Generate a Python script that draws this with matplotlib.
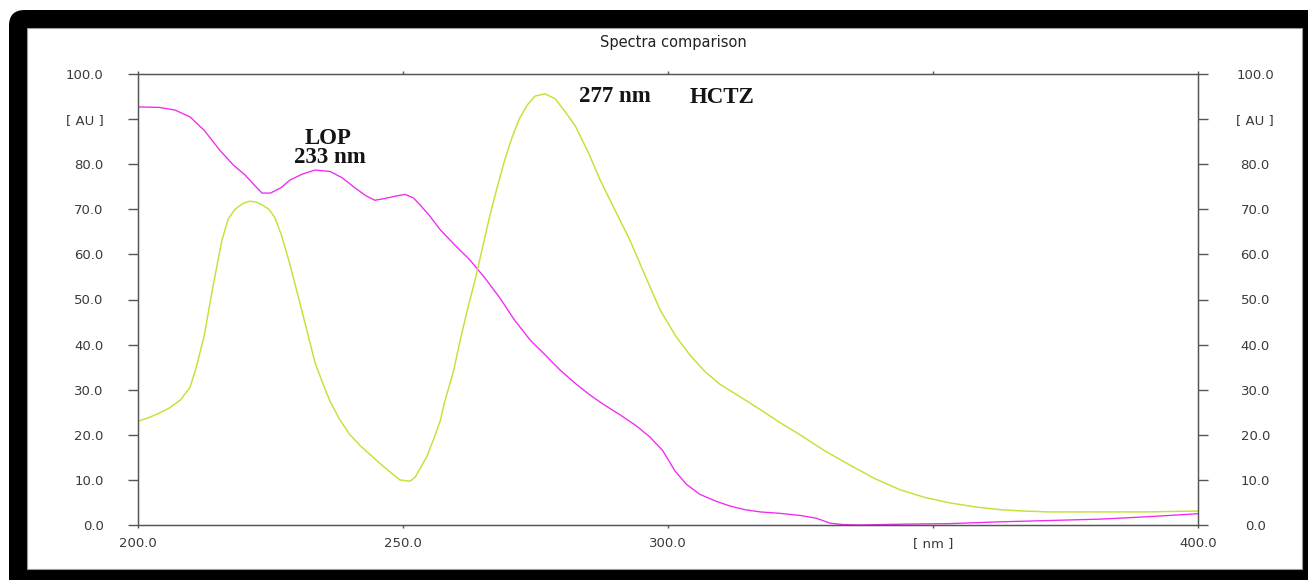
import matplotlib.pyplot as plt
from matplotlib.patches import FancyBboxPatch, Rectangle

# wavelengths [nm] and absorbance [AU]
lop_nm = [200, 204, 207, 209.8, 212.5, 215.5, 218, 220.2, 222, 223.4, 225, 227, 228.7, 231,
          233.4, 236.2, 238.5, 241, 243, 244.7, 246.6, 248.5, 250.4, 252, 253.2, 255, 257,
          260, 262.6, 265.5, 268.3, 271, 274, 277, 279.6, 282.5, 285.3, 288, 291, 294, 296.6,
          299, 301.3, 303.5, 306, 309, 311.7, 314.5, 317.4, 321, 325, 328, 330.6, 333, 336,
          345, 353, 362.6, 372, 381.5, 390, 400]
lop_au = [92.7, 92.6, 92.0, 90.5, 87.5, 83.0, 79.8, 77.6, 75.3, 73.6, 73.6, 74.8, 76.5, 77.8,
          78.7, 78.4, 77.0, 74.7, 73.0, 72.0, 72.4, 72.9, 73.3, 72.5, 71.0, 68.6, 65.5, 61.8,
          58.8, 54.7, 50.3, 45.5, 41.0, 37.5, 34.4, 31.4, 28.8, 26.6, 24.4, 22.0, 19.5, 16.5,
          12.0, 9.0, 6.8, 5.3, 4.2, 3.4, 2.9, 2.6, 2.1, 1.5, 0.4, 0.1, 0.0, 0.2, 0.3, 0.7,
          1.0, 1.3, 1.8, 2.5]

hctz_nm = [200, 202, 204, 206, 208, 209.8, 211, 212.5, 214, 215.8, 217, 218.3, 219.8, 221.1,
           222.3, 223.4, 224.7, 225.8, 227, 228.5, 230.6, 232, 233.4, 235, 236.2, 238, 240,
           242, 243.8, 245.5, 247.5, 249.4, 251.3, 252.3, 253.2, 254.5, 255.7, 257, 257.9,
           259.5, 260.8, 262.2, 263.6, 265, 266.4, 267.8, 269.2, 270.6, 272, 273.5, 274.9,
           276.8, 278.7, 280.5, 282.5, 285, 287.2, 290, 292.8, 295.5, 298.5, 301.5, 304.2,
           307, 309.8, 313.5, 317.4, 321, 324.9, 329.5, 334.3, 339, 343.8, 348.5, 353.2, 358,
           362.6, 367, 372, 381.5, 390, 400]
hctz_au = [23.0, 23.8, 24.8, 26.0, 27.7, 30.5, 35.0, 42.0, 52.0, 63.0, 67.8, 70.0, 71.3, 71.8,
           71.6, 71.0, 70.0, 68.2, 64.5, 58.5, 49.0, 42.5, 36.0, 31.0, 27.5, 23.5, 20.0, 17.5,
           15.6, 13.8, 11.8, 10.0, 9.7, 10.6, 12.5, 15.2, 18.8, 23.0, 27.5, 34.0, 41.0, 48.0,
           54.3, 61.5, 68.7, 75.0, 81.0, 86.0, 90.2, 93.2, 95.1, 95.6, 94.5, 91.8, 88.5, 82.5,
           76.5, 69.8, 63.2, 55.8, 47.7, 41.8, 37.6, 34.0, 31.2, 28.5, 25.6, 22.8, 20.0, 16.5,
           13.3, 10.3, 7.8, 6.1, 4.9, 4.0, 3.4, 3.1, 2.9, 2.9, 2.9, 3.1]

x_ticks = [200, 250, 300, 350, 400]
x_labels = ["200.0", "250.0", "300.0", "[ nm ]", "400.0"]
y_ticks = [0, 10, 20, 30, 40, 50, 60, 70, 80, 90, 100]
y_labels = ["0.0", "10.0", "20.0", "30.0", "40.0", "50.0", "60.0", "70.0", "80.0", "[ AU ]", "100.0"]

W, H = 1308, 580
fig = plt.figure(figsize=(W / 100, H / 100), dpi=100, facecolor="white")

# black frame (rounded only at the top left) and the white panel inside it
fig.patches.append(FancyBboxPatch((9 / W, -2), 3, 3 - 10 / H,
                                  boxstyle="round,pad=0,rounding_size=0.012",
                                  mutation_aspect=W / H,
                                  transform=fig.transFigure, facecolor="black",
                                  edgecolor="none", zorder=0))
fig.patches.append(Rectangle((27 / W, 11 / H), (1302 - 27) / W, (569 - 28) / H,
                             transform=fig.transFigure, facecolor="white",
                             edgecolor="#999999", linewidth=0.8, zorder=1))

ax = fig.add_axes([138 / W, 55 / H, (1198 - 138) / W, (525 - 74) / H])
ax.set_zorder(2)
ax.set_facecolor("none")

ax.plot(lop_nm, lop_au, color="#f028f0", lw=0.95)
ax.plot(hctz_nm, hctz_au, color="#c2e236", lw=1.05)

ax.set_xlim(200, 400)
ax.set_ylim(0, 100)

grey = "#555555"
for s in ax.spines.values():
    s.set_color(grey)
    s.set_linewidth(1.0)

font = dict(family=["DejaVu Sans"], size=9.5, color="#3a3a3a")

ax.set_xticks(x_ticks)
ax.set_xticklabels(x_labels, **font)
ax.set_yticks(y_ticks)
ax.set_yticklabels(y_labels, **font)
ax.tick_params(axis="x", direction="out", length=2.5, width=1, color=grey, pad=6, top=True)
ax.tick_params(axis="y", direction="out", length=7.2, width=1, color=grey, pad=17.5)

axr = ax.twinx()
axr.set_ylim(0, 100)
axr.set_yticks(y_ticks)
axr.set_yticklabels(y_labels, ha="center", **font)
axr.tick_params(axis="y", direction="out", length=7.2, width=1, color=grey, pad=34)
for s in axr.spines.values():
    s.set_color(grey)

fig.text(673 / W, 1 - 43 / H, "Spectra comparison", ha="center", va="center",
         family=["DejaVu Sans"], size=10.5, color="#222222")

serif = dict(family=["Liberation Serif", "DejaVu Serif"], size=16.5, weight="bold", color="#151515")
ax.text(235.8, 85.6, "LOP", ha="center", va="center", **serif)
ax.text(236.2, 81.4, "233 nm", ha="center", va="center", **serif)
ax.text(290.0, 95.1, "277 nm", ha="center", va="center", **serif)
ax.text(310.2, 94.7, "HCTZ", ha="center", va="center", **serif)

fig.savefig("out.png", dpi=100, facecolor="white")
